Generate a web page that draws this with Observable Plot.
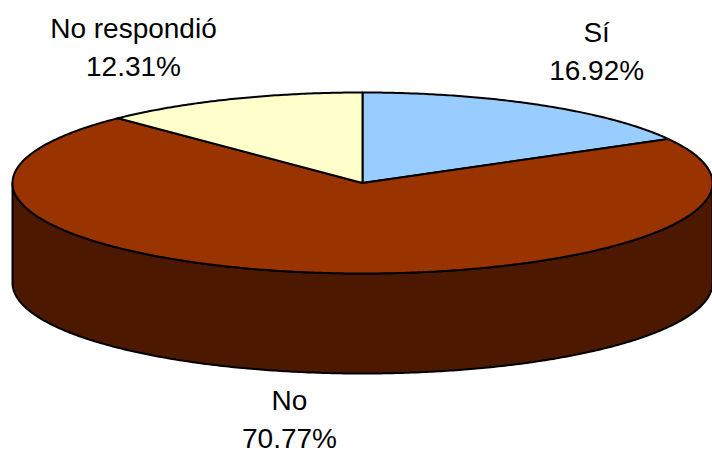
<!DOCTYPE html>
<html>
<head>
<meta charset="utf-8">
<script src="https://cdn.jsdelivr.net/npm/d3@7"></script>
<script src="https://cdn.jsdelivr.net/npm/@observablehq/plot@0.6"></script>
<style>
  html, body { margin: 0; padding: 0; background: #ffffff; }
  #chart svg { display: block; }
</style>
</head>
<body>
<div id="chart"></div>
<script>
// Survey answers and their shares (percent)
const categories = ["Sí", "No", "No respondió"];
const shares = [16.92, 70.77, 12.31];
const topColors = ["#99CCFF", "#993300", "#FFFFCC"];
const sideColors = ["#4D6680", "#4C1900", "#80806A"];

// Pie disc layout (in plot units, which map 1:1 to pixels here)
const W = 712, H = 452;
const cx = 362, cy = 182.5, rx = 350, ry = 90.5, depth = 100;
// How far out each label sits along its slice's mid angle, [horizontal, vertical]
const labelReach = [[1.32, 1.72], [1.445, 1.49], [1.735, 1.65]];

const rows = categories.map((c, i) => ({ category: c, share: shares[i], i }));
const arcs = d3.pie().sort(null).value(d => d.share)(rows);

// point on the top rim (or on the bottom rim when dropped)
const rim = (a, dropped) => [cx + rx * Math.sin(a), cy - ry * Math.cos(a) + (dropped ? depth : 0)];
const sweep = (a0, a1, dropped) => {
  const n = Math.max(2, Math.ceil(Math.abs(a1 - a0) / (Math.PI / 360)));
  return d3.range(n + 1).map(k => rim(a0 + (a1 - a0) * k / n, dropped));
};

const topPts = [];
const sidePts = [];
arcs.forEach(arc => {
  const i = arc.data.i;
  const poly = [[cx, cy], ...sweep(arc.startAngle, arc.endAngle, false), [cx, cy]];
  poly.forEach(([x, y]) => topPts.push({ id: "t" + i, x, y, color: topColors[i] }));
  // visible front wall: the lower half of the rim
  const lo = Math.max(arc.startAngle, Math.PI / 2);
  const hi = Math.min(arc.endAngle, 3 * Math.PI / 2);
  if (lo < hi) {
    const wall = [...sweep(lo, hi, false), ...sweep(hi, lo, true)];
    wall.push(wall[0]);
    wall.forEach(([x, y]) => sidePts.push({ id: "s" + i, x, y, color: sideColors[i] }));
  }
});

const labels = arcs.map(arc => {
  const i = arc.data.i;
  const mid = (arc.startAngle + arc.endAngle) / 2;
  const [kx, ky] = labelReach[i];
  const front = Math.cos(mid) < 0;
  return {
    x: cx + rx * kx * Math.sin(mid),
    y: cy - ry * ky * Math.cos(mid) + (front ? depth : 0),
    text: `${arc.data.category}\n${arc.data.share.toFixed(2)}%`
  };
});

const chart = Plot.plot({
  width: W,
  height: H,
  margin: 0,
  x: { domain: [0, W], axis: null },
  y: { domain: [H, 0], axis: null },
  color: { type: "identity" },
  style: { background: "#ffffff", overflow: "visible" },
  marks: [
    Plot.line(sidePts, { x: "x", y: "y", z: "id", fill: "color", stroke: "#000000", strokeWidth: 2, strokeLinejoin: "round" }),
    Plot.line(topPts, { x: "x", y: "y", z: "id", fill: "color", stroke: "#000000", strokeWidth: 2, strokeLinejoin: "round" }),
    Plot.text(labels, {
      x: "x", y: "y", text: "text",
      fontSize: 28, lineHeight: 1.36,
      fontFamily: "'Liberation Sans', Arial, sans-serif",
      fill: "#000000"
    })
  ]
});

document.getElementById("chart").appendChild(chart);
</script>
</body>
</html>
